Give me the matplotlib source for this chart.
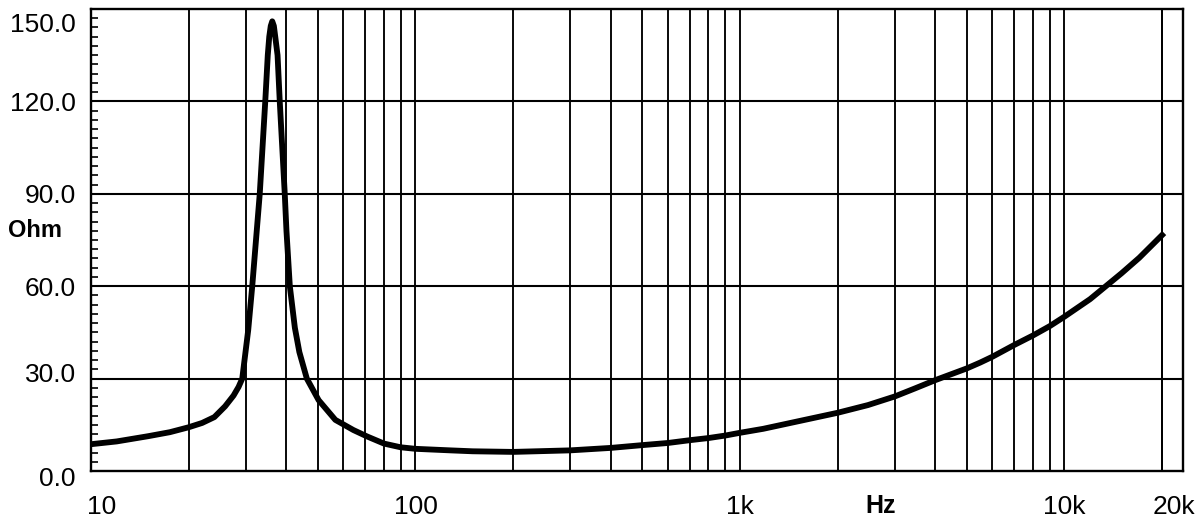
import matplotlib
matplotlib.use("Agg")
import matplotlib.pyplot as plt
import matplotlib.transforms as mtransforms
import numpy as np

# impedance curve (Hz, Ohm)
freq = [10, 12, 15, 17.5, 20, 22, 24, 25.9, 27.5, 28.5, 29.25, 30.52, 31.4, 32.42,
        33.12, 34.44, 35.06, 35.43, 35.81, 36.19, 36.61, 36.97, 37.58, 38.17, 39.55,
        40.03, 41.0, 42.49, 43.87, 46.26, 50.3, 56.63, 64.37, 71, 80, 90, 100, 128,
        150, 200, 300, 400, 500, 600, 700, 800, 900, 1000, 1180, 1490, 2000, 2480,
        3000, 3460, 4000, 5000, 5500, 6000, 7000, 8000, 9000, 10000, 12000, 15000,
        17000, 20000]
ohm = [8.7, 9.6, 11.3, 12.6, 14.2, 15.6, 17.5, 21, 24.5, 27.3, 30, 45.8, 60, 78,
       90, 120, 135, 141, 144.5, 146, 144.5, 141, 135, 120, 90,
       78, 60, 46.5, 38.6, 30, 23, 16.6, 13.3, 11.2, 8.9, 7.7, 7.2, 6.7,
       6.4, 6.2, 6.7, 7.5, 8.4, 9.1, 10.0, 10.7, 11.5, 12.4, 13.7, 16.0, 18.9, 21.4,
       24.2, 26.8, 29.5, 33.3, 35.2, 37.1, 40.9, 44.0, 47.0, 50.1, 55.8, 64.2,
       69.2, 76.6]

yticks = [0, 30, 60, 90, 120, 150]
ylabels = ["0.0", "30.0", "60.0", "90.0", "120.0", "150.0"]
xticks = [10, 100, 1000, 10000, 20000]
xlabels = ["10", "100", "1k", "10k", "20k"]

plt.rcParams['font.family'] = ['Liberation Sans', 'DejaVu Sans']

fig = plt.figure(figsize=(12, 5.31), dpi=100)
ax = fig.add_axes([91/1200, 1-471/531, (1183-91)/1200, (471-9)/531])

# vertical grid at every 1..9 x decade
vlines = []
for dec in [10, 100, 1000, 10000]:
    for m in range(1, 10):
        vlines.append(dec*m)
vlines.append(20000)
for v in vlines:
    ax.axvline(v, color='black', lw=1.35, zorder=1)
for h in yticks[1:-1]:
    ax.axhline(h, color='black', lw=1.5, zorder=1)

ax.plot(freq, ohm, color='black', lw=4.2, solid_joinstyle='round', zorder=3)

ax.set_xscale('log')
ax.set_xlim(10, 23200)
ax.set_ylim(0, 150)

ax.set_xticks(xticks)
ax.set_xticklabels(xlabels)
ax.xaxis.set_minor_locator(matplotlib.ticker.NullLocator())
ax.tick_params(axis='x', length=0, pad=17, labelsize=19)

ax.set_yticks(yticks)
ax.set_yticklabels(ylabels)
ax.set_yticks(np.arange(0, 151, 3), minor=True)
ax.tick_params(axis='y', which='both', direction='in', length=5, width=1.2,
               pad=11, labelsize=19)

for s in ax.spines.values():
    s.set_linewidth(1.7)

# nudge a few labels like in the original
def shift(lbl, dx, dy):
    lbl.set_transform(lbl.get_transform() +
                      mtransforms.ScaledTranslation(dx/100, dy/100, fig.dpi_scale_trans))

ylab = ax.get_yticklabels()
shift(ylab[0], 0, -6)
shift(ylab[1], 0, 6)
shift(ylab[5], 0, -14)
xlab = ax.get_xticklabels()
shift(xlab[0], 11, 0)
shift(xlab[4], 12, 0)

fig.text(35/1200, 1-230/531, "Ohm", fontsize=17, fontweight='bold',
         ha='center', va='center')
fig.text(881/1200, 1-506/531, "Hz", fontsize=18, fontweight='bold',
         ha='center', va='center')

plt.savefig('out.png', dpi=100)
